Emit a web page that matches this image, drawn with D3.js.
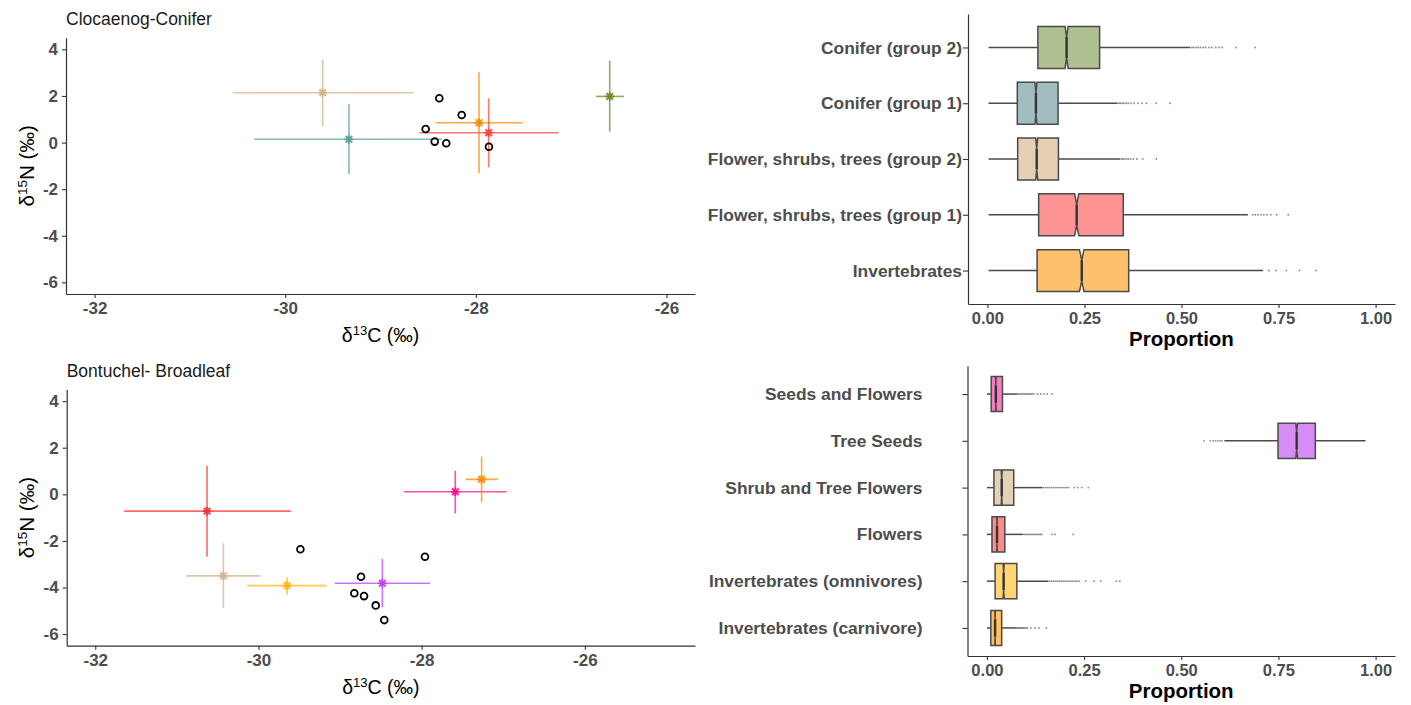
<!DOCTYPE html>
<html><head><meta charset="utf-8">
<script src="https://cdn.jsdelivr.net/npm/d3@7"></script>
<style>
body{margin:0;background:#fff;}
svg{display:block;font-family:"Liberation Sans",Arial,Helvetica,sans-serif;}
</style>
</head><body>
<svg id="chart" width="1411" height="705"></svg>
<script>
// ---------------- Biplot data: Clocaenog-Conifer ----------------
const clocTitle = "Clocaenog-Conifer";
const clocSourceNames = ["Flower, shrubs, trees (group 2)", "Conifer (group 1)", "Invertebrates", "Flower, shrubs, trees (group 1)", "Conifer (group 2)"];
const clocSourceColors = ["#D2B48C", "#5F9EA0", "#FF8C00", "#FF4545", "#6B8E23"];
const clocMeanC = [-29.607, -29.331, -27.966, -27.865, -26.595];
const clocMeanN = [2.14, 0.14, 0.85, 0.42, 1.98];
const clocMinC  = [-30.551, -30.324, -28.421, -28.593, -26.739];
const clocMaxC  = [-28.656, -28.358, -27.508, -27.134, -26.445];
const clocMinN  = [0.71, -1.35, -1.32, -1.06, 0.47];
const clocMaxN  = [3.57, 1.64, 3.02, 1.90, 3.51];
const clocConsumerC = [-28.383, -28.148, -28.526, -28.431, -28.310, -27.862];
const clocConsumerN = [1.90, 1.18, 0.58, 0.04, -0.03, -0.18];

// ---------------- Biplot data: Bontuchel- Broadleaf ----------------
const bontTitle = "Bontuchel- Broadleaf";
const bontSourceNames = ["Flowers", "Shrub and Tree Flowers", "Invertebrates (omnivores)", "Tree Seeds", "Seeds and Flowers", "Invertebrates (carnivore)"];
const bontSourceColors = ["#FF3535", "#D2B48C", "#FFB90F", "#BF3EFF", "#FF1493", "#FF8C00"];
const bontMeanC = [-30.63, -30.43, -29.649, -28.482, -27.588, -27.265];
const bontMeanN = [-0.72, -3.50, -3.92, -3.82, 0.11, 0.64];
const bontMinC  = [-31.645, -30.886, -30.135, -29.065, -28.216, -27.461];
const bontMaxC  = [-29.604, -29.971, -29.163, -27.898, -26.959, -27.062];
const bontMinN  = [-2.68, -4.89, -4.32, -4.85, -0.82, -0.34];
const bontMaxN  = [1.23, -2.10, -3.56, -2.78, 1.01, 1.61];
const bontConsumerC = [-29.486, -27.959, -28.743, -28.825, -28.706, -28.563, -28.458];
const bontConsumerN = [-2.36, -2.68, -3.54, -4.25, -4.37, -4.77, -5.40];

const biplotXTicks = [-32, -30, -28, -26];
const biplotYTicks = [-6, -4, -2, 0, 2, 4];

// ---------------- Box plot data: Clocaenog ----------------
const topCategories = ["Conifer (group 2)", "Conifer (group 1)", "Flower, shrubs, trees (group 2)", "Flower, shrubs, trees (group 1)", "Invertebrates"];
const topFills = ["#AFC190", "#A1BDC0", "#E5D0B3", "#FF9494", "#FFC06E"];
const topLow  = [0.003, 0.003, 0.003, 0.003, 0.003];
const topQ1   = [0.130, 0.077, 0.078, 0.132, 0.128];
const topMed  = [0.204, 0.125, 0.127, 0.230, 0.243];
const topQ3   = [0.289, 0.182, 0.183, 0.350, 0.364];
const topHigh = [0.523, 0.335, 0.342, 0.671, 0.710];
const topOutliers = [
  [0.527, 0.532, 0.538, 0.543, 0.549, 0.556, 0.562, 0.571, 0.578, 0.588, 0.597, 0.605, 0.640, 0.690],
  [0.338, 0.342, 0.347, 0.352, 0.358, 0.363, 0.370, 0.378, 0.388, 0.398, 0.410, 0.435, 0.470],
  [0.345, 0.349, 0.353, 0.358, 0.363, 0.369, 0.376, 0.385, 0.400, 0.435],
  [0.683, 0.690, 0.697, 0.705, 0.712, 0.720, 0.730, 0.745, 0.775],
  [0.725, 0.744, 0.770, 0.804, 0.847]
];

// ---------------- Box plot data: Bontuchel ----------------
const botCategories = ["Seeds and Flowers", "Tree Seeds", "Shrub and Tree Flowers", "Flowers", "Invertebrates (omnivores)", "Invertebrates (carnivore)"];
const botFills = ["#F77DC2", "#D58CF5", "#E5D1B5", "#FF8B8B", "#FFD671", "#FFC163"];
const botLow  = [0.000, 0.611, 0.000, 0.000, 0.000, 0.000];
const botQ1   = [0.011, 0.749, 0.018, 0.013, 0.021, 0.010];
const botMed  = [0.023, 0.797, 0.038, 0.026, 0.043, 0.021];
const botQ3   = [0.040, 0.845, 0.069, 0.046, 0.077, 0.038];
const botHigh = [0.078, 0.974, 0.143, 0.094, 0.158, 0.076];
const botOutliers = [
  [0.080, 0.084, 0.088, 0.092, 0.096, 0.100, 0.104, 0.108, 0.112, 0.116, 0.121, 0.130, 0.138, 0.147, 0.155, 0.167],
  [0.558, 0.575, 0.582, 0.588, 0.594, 0.600, 0.605],
  [0.146, 0.151, 0.156, 0.161, 0.166, 0.171, 0.176, 0.181, 0.186, 0.191, 0.196, 0.201, 0.206, 0.211, 0.224, 0.233, 0.244, 0.261],
  [0.097, 0.101, 0.105, 0.109, 0.113, 0.117, 0.121, 0.125, 0.129, 0.133, 0.137, 0.141, 0.167, 0.175, 0.222],
  [0.161, 0.166, 0.171, 0.176, 0.181, 0.186, 0.191, 0.196, 0.201, 0.206, 0.211, 0.216, 0.221, 0.226, 0.231, 0.237, 0.254, 0.276, 0.293, 0.333, 0.342],
  [0.078, 0.081, 0.084, 0.087, 0.090, 0.093, 0.096, 0.100, 0.104, 0.113, 0.124, 0.134, 0.153]
];
const boxTicks = [0, 0.25, 0.5, 0.75, 1];
const posteriorDraws = 4000;

// ---------------- Drawing ----------------
const svg = d3.select("#chart");
const tickGrey = "#4D4D4D";
const axisColor = "#333333";

function styleAxis(g, fontSize) {
  g.select(".domain").attr("stroke", axisColor).attr("stroke-width", 1.2);
  g.selectAll(".tick line").attr("stroke", axisColor).attr("stroke-width", 1.1);
  g.selectAll(".tick text").attr("fill", tickGrey).attr("font-size", fontSize)
    .attr("font-weight", "bold").attr("font-family", "'Liberation Sans', Arial, sans-serif");
}

function drawBiplot(cfg) {
  const x = d3.scaleLinear().domain(cfg.xDomain).range(cfg.xRange);
  const y = d3.scaleLinear().domain([-6.5, 4.5]).range(cfg.yRange);
  const g = svg.append("g");

  g.append("text").attr("x", cfg.xRange[0]).attr("y", cfg.titleY)
    .attr("font-size", 17.5).attr("fill", "#1a1a1a").text(cfg.title);

  const xa = g.append("g").attr("transform", `translate(0,${cfg.yRange[0]})`)
    .call(d3.axisBottom(x).tickValues(biplotXTicks).tickSize(4).tickPadding(4).tickSizeOuter(0).tickFormat(d3.format("d")));
  styleAxis(xa, 17);
  const ya = g.append("g").attr("transform", `translate(${cfg.xRange[0]},0)`)
    .call(d3.axisLeft(y).tickValues(biplotYTicks).tickSize(4).tickPadding(4).tickSizeOuter(0).tickFormat(d3.format("d")));
  styleAxis(ya, 17);
  xa.selectAll(".tick text").text(d => d < 0 ? "-" + Math.abs(d) : d);
  ya.selectAll(".tick text").text(d => d < 0 ? "-" + Math.abs(d) : d);

  // axis titles
  const cx = (cfg.xRange[0] + cfg.xRange[1]) / 2;
  const xt = g.append("text").attr("x", cx).attr("y", cfg.xTitleY).attr("text-anchor", "middle")
    .attr("font-size", 19.5).attr("fill", "#000");
  xt.append("tspan").text("δ");
  xt.append("tspan").attr("dy", -7).attr("font-size", 13).text("13");
  xt.append("tspan").attr("dy", 7).text("C (‰)");

  const cy = (cfg.yRange[0] + cfg.yRange[1]) / 2;
  const yt = g.append("text").attr("transform", `translate(${cfg.yTitleX},${cy}) rotate(-90)`)
    .attr("text-anchor", "middle").attr("font-size", 20.5).attr("fill", "#000");
  yt.append("tspan").text("δ");
  yt.append("tspan").attr("dy", -7).attr("font-size", 13.5).text("15");
  yt.append("tspan").attr("dy", 7).text("N (‰)");

  const d = cfg.meanC.map((m, i) => ({
    mx: m, my: cfg.meanN[i], x0: cfg.minC[i], x1: cfg.maxC[i], y0: cfg.minN[i], y1: cfg.maxN[i], col: cfg.colors[i]
  }));
  const src = g.append("g").selectAll("g").data(d).join("g");
  src.append("line").attr("x1", e => x(e.x0)).attr("x2", e => x(e.x1))
    .attr("y1", e => y(e.my)).attr("y2", e => y(e.my))
    .attr("stroke", e => e.col).attr("stroke-opacity", 0.75).attr("stroke-width", 1.6);
  src.append("line").attr("x1", e => x(e.mx)).attr("x2", e => x(e.mx))
    .attr("y1", e => y(e.y0)).attr("y2", e => y(e.y1))
    .attr("stroke", e => e.col).attr("stroke-opacity", 0.75).attr("stroke-width", 1.6);
  // star marker (shape 8)
  const r = 4.4;
  src.each(function(e) {
    const s = d3.select(this).append("g").attr("transform", `translate(${x(e.mx)},${y(e.my)})`);
    const segs = [[-r,0,r,0],[0,-r,0,r],[-r*0.75,-r*0.75,r*0.75,r*0.75],[-r*0.75,r*0.75,r*0.75,-r*0.75]];
    segs.forEach(sg => s.append("line").attr("x1", sg[0]).attr("y1", sg[1]).attr("x2", sg[2]).attr("y2", sg[3])
      .attr("stroke", e.col).attr("stroke-width", 1.8));
  });

  g.append("g").selectAll("circle").data(cfg.consC.map((c, i) => [c, cfg.consN[i]])).join("circle")
    .attr("cx", p => x(p[0])).attr("cy", p => y(p[1])).attr("r", 3.4)
    .attr("fill", "none").attr("stroke", "#000").attr("stroke-width", 1.8);
}

drawBiplot({
  title: clocTitle, titleY: 25, xDomain: [-32.3, -25.7], xRange: [66, 695], yRange: [294, 37.7],
  xTitleY: 342, yTitleX: 34,
  meanC: clocMeanC, meanN: clocMeanN, minC: clocMinC, maxC: clocMaxC, minN: clocMinN, maxN: clocMaxN,
  colors: clocSourceColors, consC: clocConsumerC, consN: clocConsumerN
});
drawBiplot({
  title: bontTitle, titleY: 377, xDomain: [-32.35, -24.65], xRange: [66.7, 695], yRange: [645.7, 389.5],
  xTitleY: 694, yTitleX: 34,
  meanC: bontMeanC, meanN: bontMeanN, minC: bontMinC, maxC: bontMaxC, minN: bontMinN, maxN: bontMaxN,
  colors: bontSourceColors, consC: bontConsumerC, consN: bontConsumerN
});

function drawBoxes(cfg) {
  const x = d3.scaleLinear().domain([-0.05, 1.05]).range(cfg.xRange);
  const y = d3.scalePoint().domain(cfg.categories).range(cfg.yRange).padding(0.6);
  const bw = y.step() * 0.75;
  const g = svg.append("g");

  const xa = g.append("g").attr("transform", `translate(0,${cfg.yRange[1]})`)
    .call(d3.axisBottom(x).tickValues(boxTicks).tickSize(4).tickPadding(4).tickSizeOuter(0).tickFormat(d3.format(".2f")));
  styleAxis(xa, 16.5);
  const ya = g.append("g").attr("transform", `translate(${cfg.xRange[0]},0)`)
    .call(d3.axisLeft(y).tickSize(4).tickPadding(cfg.labelPad).tickSizeOuter(0));
  styleAxis(ya, 17.4);
  ya.selectAll(".tick line").attr("x2", -5);

  g.append("text").attr("x", (cfg.xRange[0] + cfg.xRange[1]) / 2).attr("y", cfg.titleY)
    .attr("text-anchor", "middle").attr("font-size", 20.5).attr("font-weight", "bold").attr("fill", "#000")
    .text("Proportion");

  const stroke = "#4A4A4A";
  cfg.categories.forEach((c, i) => {
    const cy = y(c);
    const q1 = cfg.q1[i], q3 = cfg.q3[i], md = cfg.med[i];
    const notch = 1.58 * (q3 - q1) / Math.sqrt(posteriorDraws);
    // whiskers
    g.append("line").attr("x1", x(cfg.low[i])).attr("x2", x(q1)).attr("y1", cy).attr("y2", cy)
      .attr("stroke", stroke).attr("stroke-width", 1.5);
    g.append("line").attr("x1", x(q3)).attr("x2", x(cfg.high[i])).attr("y1", cy).attr("y2", cy)
      .attr("stroke", stroke).attr("stroke-width", 1.5);
    // notched box
    const top = cy - bw / 2, bot = cy + bw / 2, inner = bw / 4;
    const pts = [
      [x(q1), top], [x(md - notch), top], [x(md), top + inner], [x(md + notch), top], [x(q3), top],
      [x(q3), bot], [x(md + notch), bot], [x(md), bot - inner], [x(md - notch), bot], [x(q1), bot]
    ];
    g.append("path").attr("d", d3.line()(pts) + "Z")
      .attr("fill", cfg.fills[i]).attr("stroke", stroke).attr("stroke-width", 1.5).attr("stroke-linejoin", "miter");
    g.append("line").attr("x1", x(md)).attr("x2", x(md)).attr("y1", top + inner).attr("y2", bot - inner)
      .attr("stroke", "#333").attr("stroke-width", 2.4);
    // outliers
    g.append("g").selectAll("circle").data(cfg.outliers[i]).join("circle")
      .attr("cx", v => x(v)).attr("cy", cy).attr("r", 0.95)
      .attr("fill", "#444").attr("fill-opacity", 0.6);
  });
}

drawBoxes({
  categories: topCategories, fills: topFills, low: topLow, q1: topQ1, med: topMed, q3: topQ3, high: topHigh,
  outliers: topOutliers, xRange: [968, 1395], yRange: [14, 304], labelPad: 2, titleY: 346
});
drawBoxes({
  categories: botCategories, fills: botFills, low: botLow, q1: botQ1, med: botMed, q3: botQ3, high: botHigh,
  outliers: botOutliers, xRange: [967.5, 1395], yRange: [366, 656], labelPad: 41, titleY: 698
});
</script>
</body></html>
